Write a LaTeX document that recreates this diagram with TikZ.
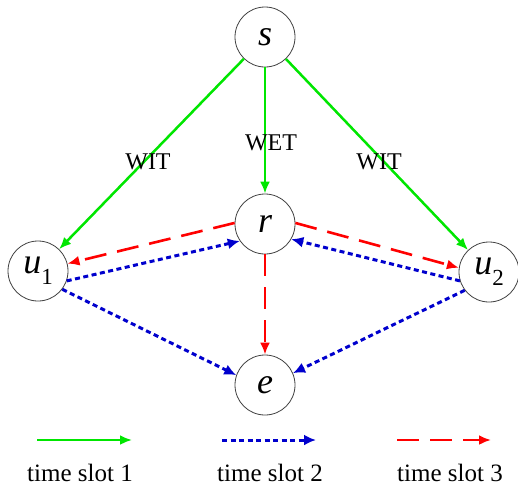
\documentclass[tikz,border=0pt]{standalone}
\usepackage{fontspec}
\setmainfont{Liberation Serif}
\usetikzlibrary{arrows.meta}
\newcommand\nodesub[2]{\textit{#1}\raisebox{-0.3em}{\fontsize{23}{23}\selectfont\upshape #2}}
\begin{document}
\begin{tikzpicture}[x=1pt,y=-1pt,
  station/.style={circle,draw=black!75,line width=0.8pt,minimum size=60pt,inner sep=0pt,
    font=\fontsize{36}{36}\selectfont\itshape},
  slotone/.style={draw={rgb,255:red,0;green,230;blue,0},line width=2.5pt,
    -{Latex[length=12pt,width=10pt]}},
  slottwo/.style={draw={rgb,255:red,0;green,0;blue,205},line width=3pt,
    dash pattern=on 5pt off 3.5pt,-{Latex[length=12pt,width=11pt]}},
  slotthree/.style={draw={rgb,255:red,255;green,0;blue,0},line width=2.6pt,
    dash pattern=on 22pt off 11pt,-{Latex[length=12pt,width=10pt]}},
  linklabel/.style={font=\fontsize{24}{24}\selectfont},
  legendlabel/.style={font=\fontsize{25}{25}\selectfont}]
\useasboundingbox (0,0) rectangle (518,490);

% stations
\node[station] (s)  at (265,37)  {s};
\node[station] (r)  at (265,224) {r};
\node[station] (u1) at (38,271)  {\nodesub{u}{1}};
\node[station] (u2) at (489,272) {\nodesub{u}{2}};
\node[station] (e)  at (265,385) {e};

% time slot 1: wireless power / information transfer
\draw[slotone] (s) -- (u1);
\draw[slotone] (s) -- (r);
\draw[slotone] (s) -- (u2);
\node[linklabel] (wit1) at (148,162) {WIT};
\node[linklabel] (wet)  at (271,143) {WET};
\node[linklabel] (wit2) at (379,162) {WIT};

% time slot 2: users transmit
\draw[slottwo] (u1.-19) -- (r.214);
\draw[slottwo] (u2.197) -- (r.-30);
\draw[slottwo] (u1.-37) -- (e.161);
\draw[slottwo] (u2.-143) -- (e.23);

% time slot 3: relay forwards
\draw[slotthree] (r.178) -- (u1.14);
\draw[slotthree] (r.2) -- (u2.172);
\draw[slotthree] (r) -- (e);

% legend
\coordinate (l1a) at (37,440);  \coordinate (l1b) at (132,440);
\coordinate (l2a) at (222,440); \coordinate (l2b) at (316,440);
\coordinate (l3a) at (397,440); \coordinate (l3b) at (491,440);
\draw[slotone] (l1a) -- (l1b);
\draw[slottwo] (l2a) -- (l2b);
\draw[slotthree] (l3a) -- (l3b);
\node[legendlabel] (t1) at (80,473)  {time slot 1};
\node[legendlabel] (t2) at (270,473) {time slot 2};
\node[legendlabel] (t3) at (450,473) {time slot 3};
\end{tikzpicture}
\end{document}
